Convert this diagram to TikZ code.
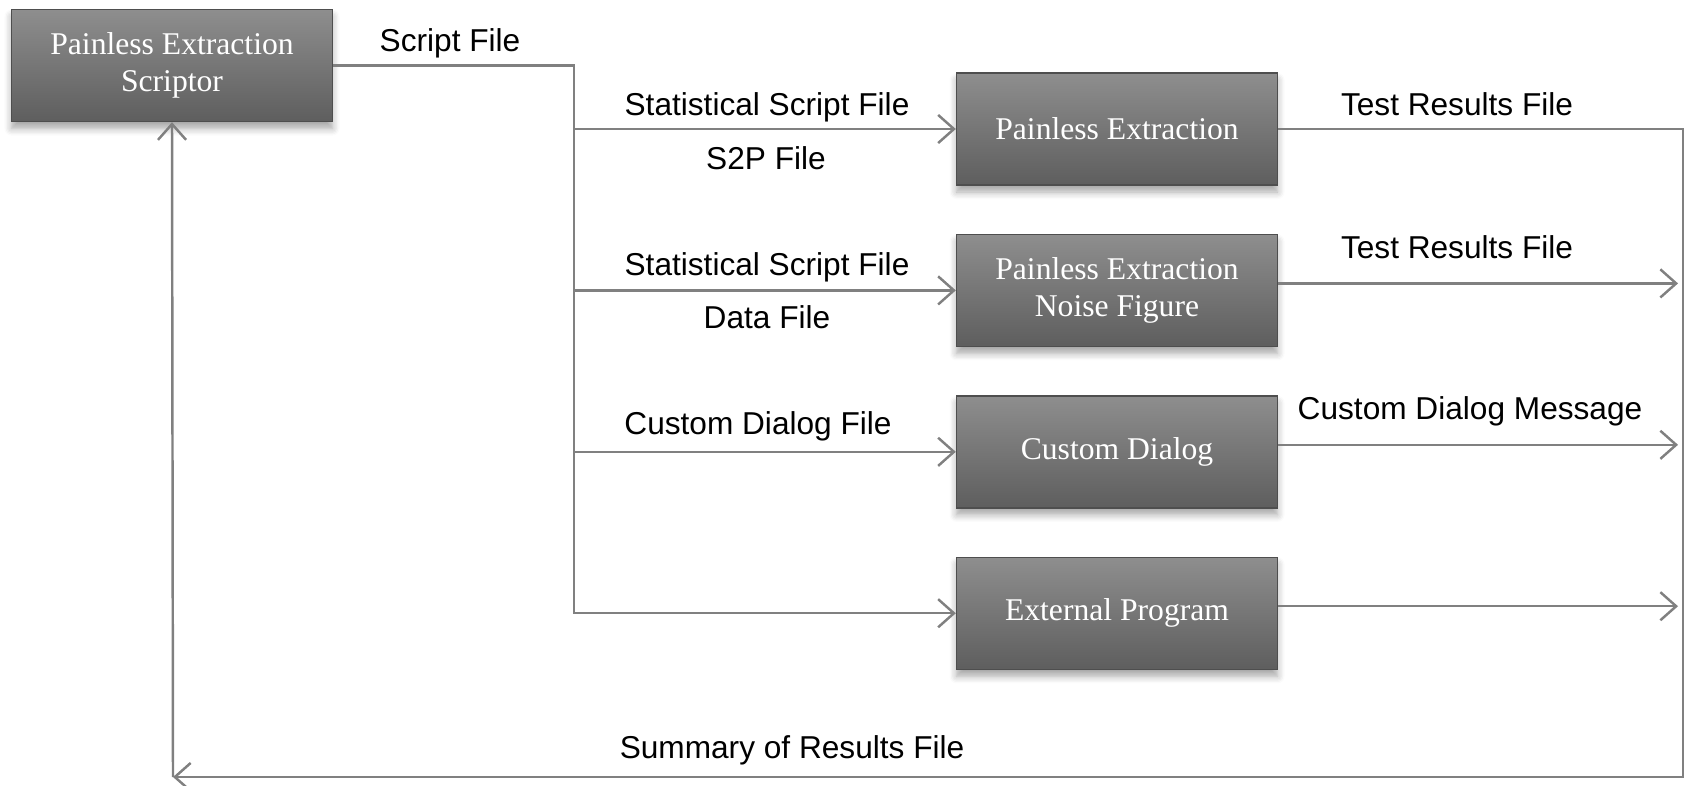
\documentclass[tikz,border=0pt]{standalone}
\usepackage{fontspec}
\setmainfont{Liberation Serif}
\setsansfont{Liberation Sans}
\usepackage{tikz}
\usetikzlibrary{arrows.meta,shapes,shadows.blur,positioning}

\definecolor{boxtop}{RGB}{142,142,142}
\definecolor{boxbot}{RGB}{94,94,94}
\definecolor{boxedge}{RGB}{78,78,78}
\definecolor{wire}{RGB}{128,128,128}

\begin{document}
\begin{tikzpicture}[
        node distance=0.48cm and 1cm,
        >={Straight Barb[length=4.5pt,width=8pt]},
        color=wire, line width=0.7pt,
        block/.style={draw=boxedge, line width=0.4pt, top color=boxtop, bottom color=boxbot,
            text=white, align=center, font=\rmfamily\fontsize{9}{10.4}\selectfont,
            minimum width=3.21cm, minimum height=1.12cm, inner sep=0pt,
            blur shadow={shadow xshift=0pt, shadow yshift=-2pt, shadow opacity=35, shadow blur steps=6, shadow blur radius=2pt}},
        lbl/.style={text=black, font=\sffamily\fontsize{9}{10.8}\selectfont, inner sep=0pt, anchor=base}
    ]

    \useasboundingbox (0,0) rectangle (16.84,-7.85);

    % Nodes
    \node[block] (scriptor) at (1.72,-0.655) {Painless Extraction\\Scriptor};
    \node[block] (pe) at (11.17,-1.29) {Painless Extraction};
    \node[block] (penf) [below=of pe] {Painless Extraction\\Noise Figure};
    \node[block] (dlg) [below=of penf] {Custom Dialog};
    \node[block] (ext) [below=of dlg] {External Program};

    % bus lines
    \coordinate (bus) at (5.74,0);
    \coordinate (rbus) at (16.83,0);
    \coordinate (rtip) at (16.78,0);
    \coordinate (corner) at (1.73,-7.77);

    % Labels
    \node[lbl] (lscript) at (4.50,-0.52) {Script File};
    \node[lbl] (lstat1) at (7.67,-1.15) {Statistical Script File};
    \node[lbl] (ls2p) at (7.66,-1.69) {S2P File};
    \node[lbl] (lstat2) at (7.67,-2.75) {Statistical Script File};
    \node[lbl] (ldata) at (7.67,-3.28) {Data File};
    \node[lbl] (ldlgfile) at (7.58,-4.34) {Custom Dialog File};
    \node[lbl] (ltest1) at (14.57,-1.15) {Test Results File};
    \node[lbl] (ltest2) at (14.57,-2.58) {Test Results File};
    \node[lbl] (ldlgmsg) at (14.70,-4.19) {Custom Dialog Message};
    \node[lbl] (lsum) at (7.92,-7.58) {Summary of Results File};

    % Edges
    \draw[->] (scriptor.east) -| (bus |- ext.west) -- (ext.west);
    \foreach \n in {pe,penf,dlg}
        \draw[->] (bus |- \n.west) -- (\n.west);

    \draw[->] (pe.east) -- (rbus |- pe.east) |- (corner);
    \draw[->] (corner) -- (scriptor.south);
    \foreach \n in {penf,dlg,ext}
        \draw[->] ([yshift=0.07cm]\n.east) coordinate (out-\n) -- (rtip |- out-\n);

\end{tikzpicture}
\end{document}
